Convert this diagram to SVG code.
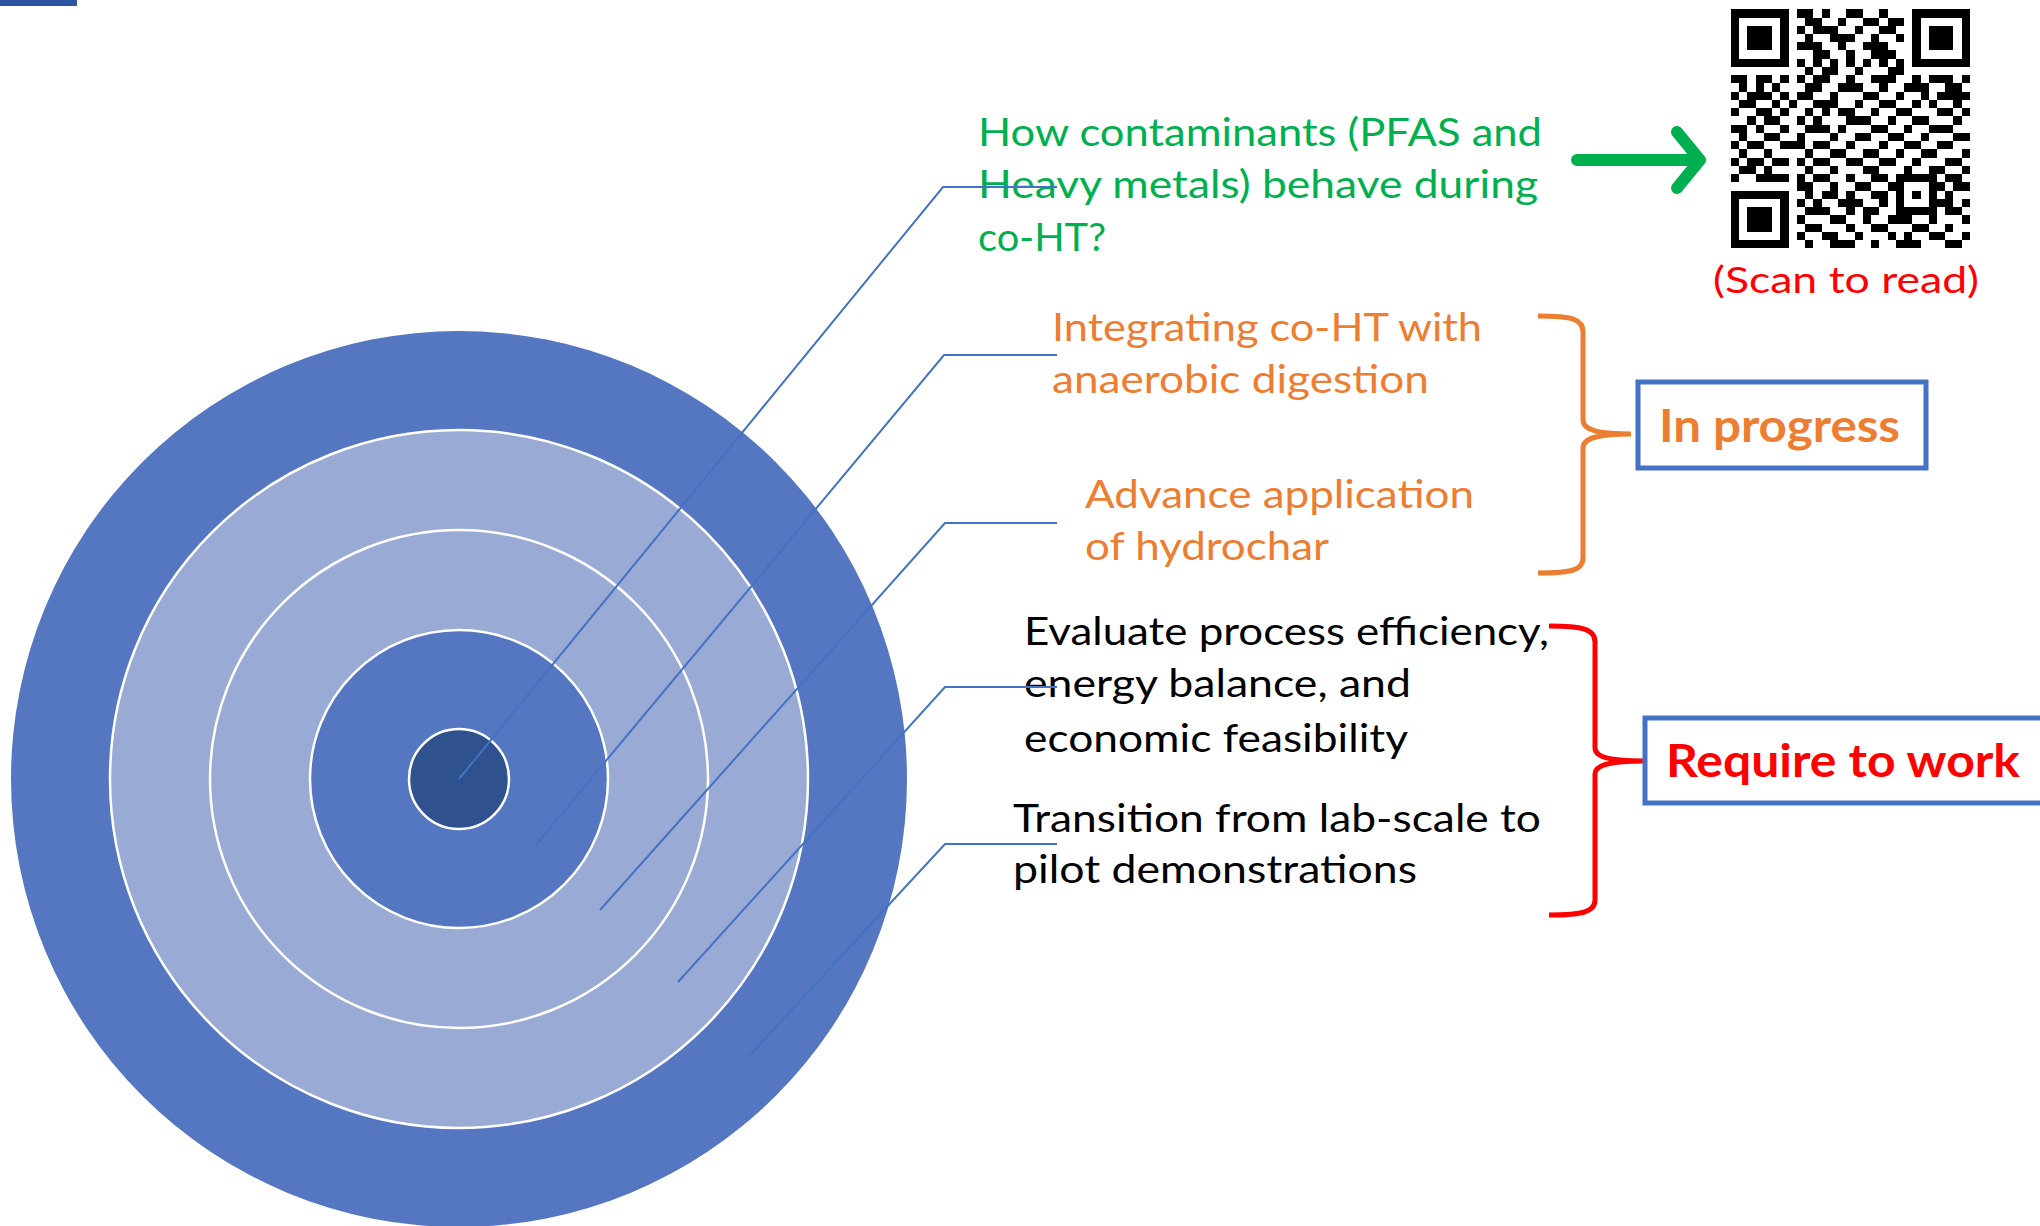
<svg xmlns="http://www.w3.org/2000/svg" width="2040" height="1226" viewBox="0 0 2040 1226">
<style>
.t{font-family:Lato,"Open Sans","Liberation Sans",sans-serif;font-size:39px}
.g{fill:#00B050}.o{fill:#ED7D31}.k{fill:#000}.r{fill:#FF0000}
.b{font-family:Lato,"Open Sans","Liberation Sans",sans-serif;font-size:46px;font-weight:bold}
.lead{fill:none;stroke:#4472C4;stroke-width:2}
.ring{stroke:#fff;stroke-width:2.5}
.box{fill:#fff;stroke:#4472C4;stroke-width:5}
</style>
<rect x="0" y="0" width="2040" height="1226" fill="#fff"/>
<rect x="0" y="0" width="77" height="6" fill="#2D55A2"/>
<g id="target">
<circle cx="459" cy="779" r="448" fill="#5577C1"/>
<circle class="ring" cx="459" cy="779" r="349" fill="#99AAD5"/>
<circle class="ring" cx="459" cy="779" r="249" fill="#99AAD5"/>
<circle class="ring" cx="459" cy="779" r="149" fill="#5577C1"/>
<circle class="ring" cx="459" cy="779" r="50" fill="#2F528F"/>
</g>
<g id="n1">
<text class="t g" x="978" y="146" textLength="564" lengthAdjust="spacingAndGlyphs">How contaminants (PFAS and</text>
<text class="t g" x="978" y="198" textLength="560" lengthAdjust="spacingAndGlyphs">Heavy metals) behave during</text>
<text class="t g" x="978" y="251" textLength="128" lengthAdjust="spacingAndGlyphs">co-HT?</text>
</g>
<g id="n2">
<text class="t o" x="1052" y="341" textLength="430" lengthAdjust="spacingAndGlyphs">Integrating co-HT with</text>
<text class="t o" x="1052" y="393" textLength="377" lengthAdjust="spacingAndGlyphs">anaerobic digestion</text>
</g>
<g id="n3">
<text class="t o" x="1085" y="508" textLength="389" lengthAdjust="spacingAndGlyphs">Advance application</text>
<text class="t o" x="1085" y="560" textLength="244" lengthAdjust="spacingAndGlyphs">of hydrochar</text>
</g>
<g id="n4">
<text class="t k" x="1024" y="645" textLength="525" lengthAdjust="spacingAndGlyphs">Evaluate process efficiency,</text>
<text class="t k" x="1024" y="697" textLength="387" lengthAdjust="spacingAndGlyphs">energy balance, and</text>
<text class="t k" x="1024" y="752" textLength="384" lengthAdjust="spacingAndGlyphs">economic feasibility</text>
</g>
<g id="n5">
<text class="t k" x="1013" y="832" textLength="528" lengthAdjust="spacingAndGlyphs">Transition from lab-scale to</text>
<text class="t k" x="1013" y="883" textLength="404" lengthAdjust="spacingAndGlyphs">pilot demonstrations</text>
</g>
<g id="brace-progress">
<path d="M1538,316 C1572,316 1583,319 1583,332 L1583,420 C1583,430 1598,434 1631,434 C1598,434 1583,438 1583,448 L1583,558 C1583,570 1572,573 1538,573" fill="none" stroke="#ED7D31" stroke-width="5"/>
</g>
<g id="in-progress">
<rect class="box" x="1638" y="382" width="288" height="86"/>
<text class="b o" x="1659" y="442" textLength="241" lengthAdjust="spacingAndGlyphs">In progress</text>
</g>
<g id="brace-require">
<path d="M1549,626 C1582,626 1595,629 1595,642 L1595,748 C1595,757 1610,761 1643,761 C1610,761 1595,765 1595,774 L1595,900 C1595,912 1582,915 1549,915" fill="none" stroke="#FF0000" stroke-width="5"/>
</g>
<g id="require">
<rect class="box" x="1645" y="718" width="420" height="85"/>
<text class="b r" x="1666" y="777" textLength="354" lengthAdjust="spacingAndGlyphs">Require to work</text>
</g>
<g id="arrow">
<path d="M1577,160 L1698,160 M1677,132 L1700,160 L1677,188" fill="none" stroke="#00B050" stroke-width="12" stroke-linecap="round" stroke-linejoin="round"/>
</g>
<g id="qr" transform="translate(1731 9.3) scale(8.24)" shape-rendering="crispEdges">
<path d="M0 0h7v7h-7z M22 0h7v7h-7z M0 22h7v7h-7z M20 20h5v5h-5z" fill="#000"/>
<path d="M1 1h5v5h-5z M23 1h5v5h-5z M1 23h5v5h-5z M21 21h3v3h-3z" fill="#fff"/>
<path d="M2 2h3v3h-3z M24 2h3v3h-3z M2 24h3v3h-3z M22 22h1v1h-1z" fill="#000"/>
<path fill="#000" d="M8 6h1v1h-1z M10 6h1v1h-1z M12 6h1v1h-1z M14 6h1v1h-1z M16 6h1v1h-1z M18 6h1v1h-1z M20 6h1v1h-1z
M6 8h1v1h-1z M6 10h1v1h-1z M6 12h1v1h-1z M6 14h1v1h-1z M6 16h1v1h-1z M6 18h1v1h-1z M6 20h1v1h-1z
M8 0h2v1h-2z M11 0h1v1h-1z M14 0h2v1h-2z M18 0h1v1h-1z
M9 1h2v1h-2z M13 1h1v1h-1z M16 1h2v1h-2z M19 1h2v1h-2z
M8 2h1v1h-1z M10 2h3v1h-3z M15 2h1v1h-1z M18 2h2v1h-2z
M9 3h1v1h-1z M12 3h3v1h-3z M17 3h1v1h-1z M20 3h1v1h-1z
M8 4h3v1h-3z M13 4h1v1h-1z M16 4h3v1h-3z
M10 5h2v1h-2z M14 5h1v1h-1z M17 5h3v1h-3z
M9 7h1v1h-1z M11 7h2v1h-2z M15 7h1v1h-1z M19 7h2v1h-2z
M0 8h2v1h-2z M3 8h2v1h-2z M8 8h1v1h-1z M10 8h2v1h-2z M14 8h1v1h-1z M17 8h3v1h-3z M22 8h1v1h-1z M24 8h3v1h-3z M28 8h1v1h-1z
M1 9h1v1h-1z M3 9h1v1h-1z M5 9h1v1h-1z M9 9h2v1h-2z M13 9h3v1h-3z M18 9h1v1h-1z M21 9h3v1h-3z M26 9h2v1h-2z
M0 10h1v1h-1z M2 10h3v1h-3z M8 10h2v1h-2z M12 10h1v1h-1z M16 10h2v1h-2z M20 10h1v1h-1z M23 10h1v1h-1z M25 10h4v1h-4z
M1 11h2v1h-2z M5 11h1v1h-1z M7 11h1v1h-1z M10 11h3v1h-3z M15 11h1v1h-1z M18 11h2v1h-2z M22 11h1v1h-1z M24 11h1v1h-1z M27 11h1v1h-1z
M0 12h1v1h-1z M3 12h2v1h-2z M9 12h1v1h-1z M11 12h1v1h-1z M13 12h2v1h-2z M17 12h1v1h-1z M20 12h2v1h-2z M25 12h2v1h-2z M28 12h1v1h-1z
M2 13h1v1h-1z M4 13h2v1h-2z M8 13h1v1h-1z M10 13h1v1h-1z M14 13h3v1h-3z M19 13h1v1h-1z M22 13h2v1h-2z M27 13h1v1h-1z
M0 14h2v1h-2z M3 14h1v1h-1z M9 14h3v1h-3z M13 14h1v1h-1z M17 14h2v1h-2z M21 14h1v1h-1z M24 14h3v1h-3z
M1 15h1v1h-1z M4 15h2v1h-2z M8 15h1v1h-1z M12 15h1v1h-1z M15 15h2v1h-2z M19 15h2v1h-2z M23 15h1v1h-1z M27 15h2v1h-2z
M0 16h1v1h-1z M2 16h2v1h-2z M7 16h2v1h-2z M10 16h2v1h-2z M14 16h1v1h-1z M18 16h1v1h-1z M21 16h2v1h-2z M25 16h2v1h-2z
M1 17h1v1h-1z M4 17h1v1h-1z M9 17h1v1h-1z M12 17h2v1h-2z M16 17h2v1h-2z M20 17h1v1h-1z M23 17h2v1h-2z M28 17h1v1h-1z
M0 18h1v1h-1z M2 18h2v1h-2z M5 18h1v1h-1z M8 18h1v1h-1z M10 18h2v1h-2z M14 18h2v1h-2z M18 18h2v1h-2z M22 18h1v1h-1z M26 18h2v1h-2z
M1 19h2v1h-2z M4 19h1v1h-1z M9 19h1v1h-1z M12 19h1v1h-1z M16 19h2v1h-2z M21 19h1v1h-1z M24 19h2v1h-2z M28 19h1v1h-1z
M0 20h1v1h-1z M3 20h3v1h-3z M8 20h1v1h-1z M10 20h2v1h-2z M14 20h1v1h-1z M17 20h2v1h-2z M26 20h2v1h-2z
M8 21h2v1h-2z M12 21h1v1h-1z M15 21h2v1h-2z M19 21h1v1h-1z M25 21h1v1h-1z M27 21h2v1h-2z
M9 22h1v1h-1z M11 22h2v1h-2z M14 22h1v1h-1z M17 22h2v1h-2z M26 22h1v1h-1z
M8 23h1v1h-1z M10 23h1v1h-1z M13 23h3v1h-3z M18 23h1v1h-1z M25 23h2v1h-2z M28 23h1v1h-1z
M9 24h3v1h-3z M14 24h1v1h-1z M16 24h2v1h-2z M26 24h2v1h-2z
M8 25h1v1h-1z M12 25h2v1h-2z M16 25h1v1h-1z M19 25h3v1h-3z M24 25h1v1h-1z M28 25h1v1h-1z
M9 26h2v1h-2z M14 26h1v1h-1z M17 26h2v1h-2z M22 26h2v1h-2z M26 26h1v1h-1z
M8 27h1v1h-1z M11 27h2v1h-2z M15 27h1v1h-1z M19 27h1v1h-1z M21 27h1v1h-1z M24 27h2v1h-2z M28 27h1v1h-1z
M9 28h1v1h-1z M12 28h3v1h-3z M17 28h1v1h-1z M20 28h3v1h-3z M26 28h2v1h-2z"/>
</g>
<g id="scan-label">
<text class="t r" x="1713" y="293" style="font-size:37px" textLength="266" lengthAdjust="spacingAndGlyphs">(Scan to read)</text>
</g>
<g id="connectors">
<path class="lead" d="M459,779 L943,187 L1057,187"/>
<path class="lead" d="M535,846 L944,355 L1057,355"/>
<path class="lead" d="M600,910 L945,523 L1057,523"/>
<path class="lead" d="M678,982 L945,687 L1057,687"/>
<path class="lead" d="M750,1055 L945,844 L1057,844"/>
</g>
</svg>
